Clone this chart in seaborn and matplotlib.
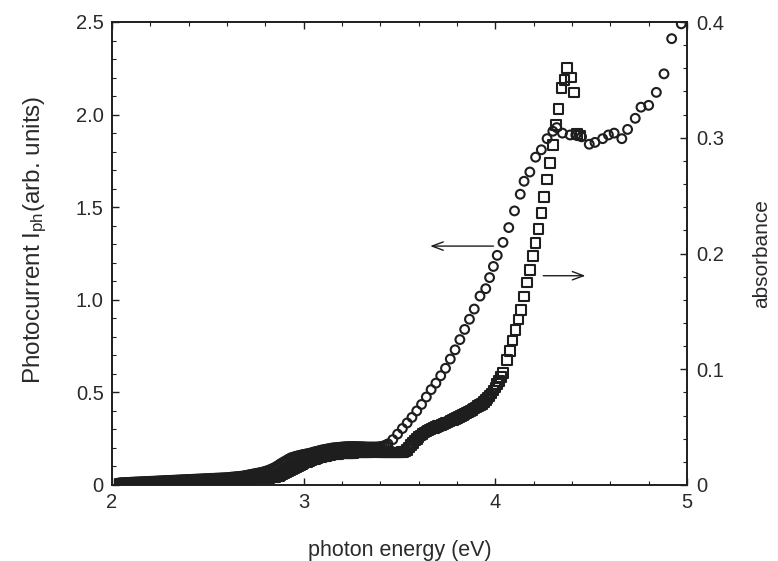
import matplotlib
matplotlib.use("Agg")
import matplotlib.pyplot as plt
import seaborn as sns
import pandas as pd
from matplotlib.ticker import MultipleLocator

# ---- data ----
# photocurrent (circles, left axis)
energy_pc = [
    2.04, 2.05, 2.06, 2.07, 2.08, 2.09, 2.10, 2.11, 2.12, 2.13,
    2.14, 2.15, 2.16, 2.17, 2.18, 2.19, 2.20, 2.21, 2.22, 2.23,
    2.24, 2.25, 2.26, 2.27, 2.28, 2.29, 2.30, 2.31, 2.32, 2.33,
    2.34, 2.35, 2.36, 2.37, 2.38, 2.39, 2.40, 2.41, 2.42, 2.43,
    2.44, 2.45, 2.46, 2.47, 2.48, 2.49, 2.50, 2.51, 2.52, 2.53,
    2.54, 2.55, 2.56, 2.57, 2.58, 2.59, 2.60, 2.61, 2.62, 2.63,
    2.64, 2.65, 2.66, 2.67, 2.68, 2.69, 2.70, 2.71, 2.72, 2.73,
    2.74, 2.75, 2.76, 2.77, 2.78, 2.79, 2.80, 2.81, 2.82, 2.83,
    2.84, 2.85, 2.86, 2.87, 2.88, 2.89, 2.90, 2.91, 2.92, 2.93,
    2.94, 2.95, 2.96, 2.97, 2.98, 2.99, 3.00, 3.01, 3.02, 3.03,
    3.04, 3.05, 3.06, 3.07, 3.08, 3.09, 3.10, 3.11, 3.12, 3.13,
    3.14, 3.15, 3.16, 3.17, 3.18, 3.19, 3.20, 3.21, 3.22, 3.23,
    3.24, 3.25, 3.26, 3.27, 3.28, 3.29, 3.30, 3.31, 3.32, 3.33,
    3.34, 3.35, 3.36, 3.37, 3.38, 3.39, 3.40, 3.41, 3.42, 3.43,
    3.44,
    3.465, 3.49, 3.515, 3.54, 3.565, 3.59, 3.615, 3.64, 3.665, 3.69,
    3.715, 3.74, 3.765, 3.79, 3.815, 3.84, 3.865, 3.89, 3.92, 3.95,
    3.97, 3.99, 4.01, 4.04, 4.07, 4.10, 4.13, 4.15, 4.18, 4.21,
    4.24, 4.27, 4.30, 4.32, 4.35, 4.39, 4.42, 4.45, 4.49, 4.52,
    4.56, 4.59, 4.62, 4.66, 4.69, 4.73, 4.76, 4.80, 4.84, 4.88,
    4.92, 4.97,
]
photocurrent = [
    0.012, 0.012, 0.013, 0.013, 0.014, 0.014, 0.015, 0.015, 0.016, 0.016,
    0.017, 0.017, 0.018, 0.018, 0.019, 0.019, 0.020, 0.020, 0.021, 0.021,
    0.022, 0.022, 0.023, 0.023, 0.024, 0.024, 0.025, 0.025, 0.026, 0.026,
    0.027, 0.027, 0.028, 0.028, 0.029, 0.029, 0.030, 0.030, 0.031, 0.031,
    0.032, 0.032, 0.033, 0.033, 0.034, 0.034, 0.035, 0.035, 0.036, 0.036,
    0.037, 0.037, 0.038, 0.038, 0.039, 0.039, 0.040, 0.041, 0.042, 0.043,
    0.044, 0.045, 0.046, 0.047, 0.048, 0.050, 0.052, 0.054, 0.056, 0.058,
    0.060, 0.062, 0.064, 0.066, 0.068, 0.071, 0.074, 0.077, 0.081, 0.085,
    0.090, 0.095, 0.101, 0.108, 0.115, 0.121, 0.127, 0.133, 0.139, 0.145,
    0.149, 0.152, 0.155, 0.158, 0.160, 0.163, 0.165, 0.167, 0.169, 0.171,
    0.174, 0.177, 0.180, 0.182, 0.185, 0.188, 0.190, 0.192, 0.194, 0.196,
    0.198, 0.200, 0.201, 0.202, 0.203, 0.204, 0.205, 0.206, 0.207, 0.207,
    0.208, 0.208, 0.208, 0.208, 0.207, 0.207, 0.207, 0.206, 0.206, 0.205,
    0.205, 0.205, 0.205, 0.205, 0.205, 0.206, 0.207, 0.209, 0.212, 0.216,
    0.222,
    0.245, 0.275, 0.305, 0.335, 0.365, 0.400, 0.435, 0.475, 0.515, 0.550,
    0.590, 0.630, 0.680, 0.730, 0.785, 0.840, 0.895, 0.950, 1.02, 1.06,
    1.12, 1.18, 1.24, 1.31, 1.39, 1.48, 1.57, 1.64, 1.69, 1.77,
    1.81, 1.87, 1.91, 1.93, 1.90, 1.89, 1.89, 1.88, 1.84, 1.85,
    1.87, 1.89, 1.90, 1.87, 1.92, 1.98, 2.04, 2.05, 2.12, 2.22,
    2.41, 2.49,
]

# absorbance (squares, right axis)
energy_abs = [
    2.04, 2.05, 2.06, 2.07, 2.08, 2.09, 2.10, 2.11, 2.12, 2.13,
    2.14, 2.15, 2.16, 2.17, 2.18, 2.19, 2.20, 2.21, 2.22, 2.23,
    2.24, 2.25, 2.26, 2.27, 2.28, 2.29, 2.30, 2.31, 2.32, 2.33,
    2.34, 2.35, 2.36, 2.37, 2.38, 2.39, 2.40, 2.41, 2.42, 2.43,
    2.44, 2.45, 2.46, 2.47, 2.48, 2.49, 2.50, 2.51, 2.52, 2.53,
    2.54, 2.55, 2.56, 2.57, 2.58, 2.59, 2.60, 2.61, 2.62, 2.63,
    2.64, 2.65, 2.66, 2.67, 2.68, 2.69, 2.70, 2.71, 2.72, 2.73,
    2.74, 2.75, 2.76, 2.77, 2.78, 2.79, 2.80, 2.81, 2.82, 2.83,
    2.84, 2.85, 2.86, 2.87, 2.88, 2.89, 2.90, 2.91, 2.92, 2.93,
    2.94, 2.95, 2.96, 2.97, 2.98, 2.99, 3.00, 3.01, 3.02, 3.03,
    3.04, 3.05, 3.06, 3.07, 3.08, 3.09, 3.10, 3.11, 3.12, 3.13,
    3.14, 3.15, 3.16, 3.17, 3.18, 3.19, 3.20, 3.21, 3.22, 3.23,
    3.24, 3.25, 3.26, 3.27, 3.28, 3.29, 3.30, 3.31, 3.32, 3.33,
    3.34, 3.35, 3.36, 3.37, 3.38, 3.39, 3.40, 3.41, 3.42, 3.43,
    3.44, 3.45, 3.46, 3.47, 3.48, 3.49, 3.50, 3.51, 3.52, 3.53,
    3.54, 3.55, 3.56, 3.57, 3.58, 3.59, 3.60, 3.61, 3.62, 3.63,
    3.64, 3.65, 3.66, 3.67, 3.68, 3.69, 3.70, 3.71, 3.72, 3.73,
    3.74, 3.75, 3.76, 3.77, 3.78, 3.79, 3.80, 3.81, 3.82, 3.83,
    3.84, 3.85, 3.86, 3.87, 3.88, 3.89, 3.90, 3.91, 3.92, 3.93,
    3.94, 3.95, 3.96, 3.97, 3.98, 3.99, 4.00, 4.01, 4.02, 4.03,
    4.04,
    4.06, 4.075, 4.09, 4.105, 4.12, 4.135, 4.15, 4.165, 4.18, 4.195,
    4.21, 4.225, 4.24, 4.255, 4.27, 4.285, 4.30, 4.315, 4.33, 4.345,
    4.36, 4.375, 4.395, 4.41, 4.425, 4.445,
]
absorbance = [
    0.0010, 0.0010, 0.0011, 0.0012, 0.0012, 0.0013, 0.0014, 0.0014, 0.0015, 0.0016,
    0.0016, 0.0017, 0.0018, 0.0018, 0.0019, 0.0020, 0.0020, 0.0021, 0.0022, 0.0022,
    0.0023, 0.0024, 0.0024, 0.0025, 0.0026, 0.0026, 0.0027, 0.0028, 0.0028, 0.0029,
    0.0030, 0.0030, 0.0031, 0.0032, 0.0032, 0.0033, 0.0034, 0.0034, 0.0035, 0.0036,
    0.0036, 0.0037, 0.0038, 0.0038, 0.0039, 0.0040, 0.0040, 0.0041, 0.0042, 0.0042,
    0.0043, 0.0044, 0.0044, 0.0045, 0.0046, 0.0046, 0.0047, 0.0048, 0.0048, 0.0049,
    0.0050, 0.0050, 0.0051, 0.0052, 0.0052, 0.0053, 0.0054, 0.0054, 0.0055, 0.0056,
    0.0056, 0.0057, 0.0058, 0.0058, 0.0059, 0.0060, 0.0061, 0.0062, 0.0063, 0.0064,
    0.0065, 0.0068, 0.0072, 0.0077, 0.0083, 0.0090, 0.0098, 0.0107, 0.0116, 0.0125,
    0.0134, 0.0143, 0.0152, 0.0161, 0.0170, 0.0178, 0.0186, 0.0194, 0.0201, 0.0208,
    0.0214, 0.0220, 0.0226, 0.0231, 0.0236, 0.0241, 0.0245, 0.0249, 0.0253, 0.0256,
    0.0259, 0.0262, 0.0265, 0.0267, 0.0269, 0.0271, 0.0273, 0.0274, 0.0275, 0.0276,
    0.0277, 0.0278, 0.0279, 0.0280, 0.0281, 0.0282, 0.0283, 0.0284, 0.0285, 0.0285,
    0.0286, 0.0287, 0.0288, 0.0289, 0.0289, 0.0288, 0.0287, 0.0286, 0.0285, 0.0284,
    0.0283, 0.0282, 0.0281, 0.0280, 0.0280, 0.0280, 0.0281, 0.0283, 0.0286, 0.0290,
    0.0305, 0.0325, 0.0345, 0.0365, 0.0385, 0.0400, 0.0415, 0.0428, 0.0440, 0.0452,
    0.0462, 0.0472, 0.0480, 0.0488, 0.0495, 0.0502, 0.0508, 0.0514, 0.0520, 0.0527,
    0.0534, 0.0541, 0.0548, 0.0556, 0.0564, 0.0572, 0.0580, 0.0588, 0.0596, 0.0605,
    0.0614, 0.0623, 0.0632, 0.0641, 0.0650, 0.0660, 0.0670, 0.0680, 0.0690, 0.0700,
    0.0715, 0.0732, 0.0750, 0.0770, 0.0792, 0.0816, 0.0842, 0.0870, 0.0900, 0.0932,
    0.0965,
    0.108, 0.116, 0.125, 0.134, 0.143, 0.151, 0.163, 0.175, 0.186, 0.198,
    0.209, 0.221, 0.235, 0.249, 0.264, 0.278, 0.294, 0.311, 0.325, 0.343,
    0.350, 0.360, 0.352, 0.339, 0.303, 0.302,
]

x_ticks = [2, 3, 4, 5]
left_ticks = [0, 0.5, 1.0, 1.5, 2.0, 2.5]
left_ticklabels = ["0", "0.5", "1.0", "1.5", "2.0", "2.5"]
right_ticks = [0, 0.1, 0.2, 0.3, 0.4]
right_ticklabels = ["0", "0.1", "0.2", "0.3", "0.4"]

df_pc = pd.DataFrame({"energy": energy_pc, "value": photocurrent})
df_abs = pd.DataFrame({"energy": energy_abs, "value": absorbance})

# ---- style ----
sns.set_style("ticks")
plt.rcParams['font.family'] = ['Liberation Sans', 'DejaVu Sans']
plt.rcParams['mathtext.fontset'] = 'custom'
plt.rcParams['mathtext.rm'] = 'Liberation Sans'
plt.rcParams['mathtext.it'] = 'Liberation Sans'
dark = "#1e1e1e"
txt = "#2a2a2a"

fig = plt.figure(figsize=(7.78, 5.61), dpi=100)
ax = fig.add_axes([112 / 778, 1 - 485 / 561, (687 - 112) / 778, (485 - 22) / 561])
ax2 = ax.twinx()

sns.scatterplot(data=df_pc, x="energy", y="value", ax=ax, marker="o", s=40,
                facecolor="none", edgecolor=dark, linewidth=1.5, legend=False)
sns.scatterplot(data=df_abs, x="energy", y="value", ax=ax2, marker="s", s=48,
                facecolor="none", edgecolor=dark, linewidth=1.5, legend=False)

ax.set_xlim(2, 5)
ax.set_ylim(0, 2.5)
ax2.set_ylim(0, 0.4)

ax.set_xticks(x_ticks)
ax.set_xticklabels([str(t) for t in x_ticks])
ax.set_yticks(left_ticks)
ax.set_yticklabels(left_ticklabels)
ax2.set_yticks(right_ticks)
ax2.set_yticklabels(right_ticklabels)
ax.xaxis.set_minor_locator(MultipleLocator(0.2))
ax.yaxis.set_minor_locator(MultipleLocator(0.1))
ax2.yaxis.set_minor_locator(MultipleLocator(0.02))

for a in (ax, ax2):
    for sp in a.spines.values():
        sp.set_visible(True)
        sp.set_color(dark)
        sp.set_linewidth(1.2)

ax.tick_params(axis="x", which="both", direction="in", top=True, bottom=True,
               colors=dark, labelcolor=txt, labelsize=14.5, pad=6)
ax.tick_params(axis="y", which="both", direction="in", left=True, right=False,
               colors=dark, labelcolor=txt, labelsize=14.5, pad=6)
ax2.tick_params(axis="y", which="both", direction="in", left=False, right=True,
                colors=dark, labelcolor=txt, labelsize=14.5, pad=7)
for a in (ax, ax2):
    a.tick_params(which="major", length=5, width=1)
    a.tick_params(which="minor", length=3, width=0.8)

ax.set_xlabel("photon energy (eV)", fontsize=15.5, color=txt, labelpad=20)
ax.set_ylabel(r"Photocurrent I$_{\rm ph}$(arb. units)", fontsize=17.5, color=txt)
ax.yaxis.set_label_coords(-0.11, 0.53)
ax2.set_ylabel("absorbance", fontsize=15, color=txt, labelpad=20)

# arrows indicating the axis each curve belongs to
ax.annotate("", xy=(3.66, 1.29), xytext=(3.99, 1.29),
            arrowprops=dict(arrowstyle="->,head_length=0.8,head_width=0.3",
                            lw=1.0, color=dark, shrinkA=0, shrinkB=0))
ax.annotate("", xy=(4.47, 1.13), xytext=(4.25, 1.13),
            arrowprops=dict(arrowstyle="->,head_length=0.8,head_width=0.3",
                            lw=1.0, color=dark, shrinkA=0, shrinkB=0))

fig.savefig("out.png", dpi=100)
